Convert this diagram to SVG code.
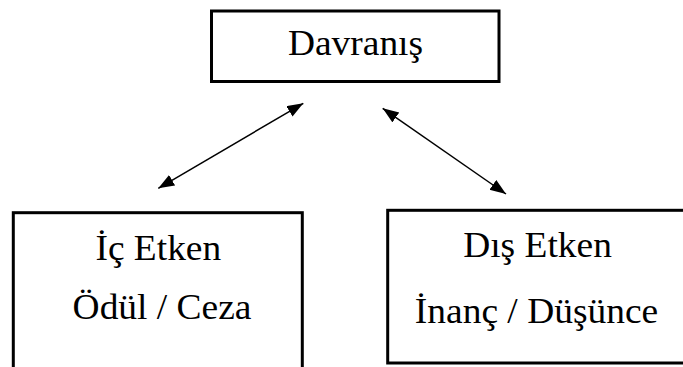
<svg xmlns="http://www.w3.org/2000/svg" width="683" height="367" viewBox="0 0 683 367">
<style>
.box{fill:#fff;stroke:#000;stroke-width:3}
.t{font-family:"Liberation Serif","Times New Roman",serif;font-size:35px;fill:#000;text-anchor:middle}
.c{stroke:#000;stroke-width:1.5;fill:none}
</style>
<defs>
<marker id="ah" markerUnits="userSpaceOnUse" markerWidth="17" markerHeight="13" refX="16" refY="6" orient="auto-start-reverse" viewBox="0 0 17 13">
<path d="M0,0 L16,6 L0,12 z" fill="#000"/>
</marker>
</defs>
<rect width="683" height="367" fill="#fff"/>
<g id="davranis">
<rect class="box" x="211.5" y="11" width="287.5" height="70.5"/>
<text class="t" transform="translate(355.5 55) scale(1.07 1)">Davranış</text>
</g>
<g id="ic-etken">
<rect class="box" x="13.3" y="212.7" width="289" height="170"/>
<text class="t" transform="translate(158.3 260) scale(1.07 1)">İç Etken</text>
<text class="t" transform="translate(162 318.5) scale(1.07 1)">Ödül / Ceza</text>
</g>
<g id="dis-etken">
<rect class="box" x="387.7" y="210.3" width="298" height="152.7"/>
<text class="t" transform="translate(537.5 257.3) scale(1.07 1)">Dış Etken</text>
<text class="t" transform="translate(536.5 323) scale(1.07 1)">İnanç / Düşünce</text>
</g>
<g id="connectors">
<line class="c" x1="158.3" y1="188.3" x2="303.3" y2="103.3" marker-start="url(#ah)" marker-end="url(#ah)"/>
<line class="c" x1="382.7" y1="108.3" x2="506" y2="194" marker-start="url(#ah)" marker-end="url(#ah)"/>
</g>
</svg>
